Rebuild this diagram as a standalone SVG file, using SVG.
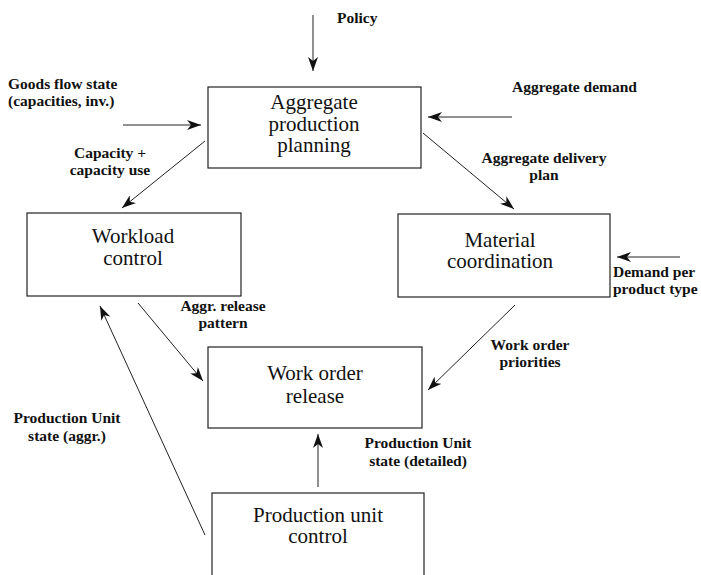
<svg xmlns="http://www.w3.org/2000/svg" width="701" height="575" viewBox="0 0 701 575">
<style>
.box{fill:#fff;stroke:#222;stroke-width:1.2}
.node{font-family:'Liberation Serif','Times New Roman','DejaVu Serif',serif;font-size:21px;fill:#111;text-anchor:middle}
.lbl{font-family:'Liberation Serif','Times New Roman','DejaVu Serif',serif;font-size:15.5px;font-weight:bold;fill:#111}
.c{text-anchor:middle}
.edge{stroke:#222;stroke-width:1;fill:none;marker-end:url(#ah)}
</style>
<defs>
<marker id="ah" viewBox="0 0 14 10" refX="14" refY="5" markerWidth="14" markerHeight="10" markerUnits="userSpaceOnUse" orient="auto">
<path d="M0,0 L14,5 L0,10 L4,5 Z" fill="#111"/>
</marker>
</defs>
<rect width="701" height="575" fill="#fff"/>
<g id="app">
<rect class="box" x="208" y="87" width="213" height="81"/>
<text class="node" x="314" y="109">Aggregate</text>
<text class="node" x="314" y="131">production</text>
<text class="node" x="314" y="152">planning</text>
</g>
<g id="workload">
<rect class="box" x="27" y="213" width="214" height="83"/>
<text class="node" x="133" y="243">Workload</text>
<text class="node" x="133" y="265">control</text>
</g>
<g id="material">
<rect class="box" x="398" y="214" width="212" height="83"/>
<text class="node" x="500" y="247">Material</text>
<text class="node" x="500" y="268">coordination</text>
</g>
<g id="release">
<rect class="box" x="208" y="347" width="214" height="81"/>
<text class="node" x="315" y="380">Work order</text>
<text class="node" x="315" y="403">release</text>
</g>
<g id="puc">
<rect class="box" x="212" y="493" width="212" height="100"/>
<text class="node" x="318" y="522">Production unit</text>
<text class="node" x="318" y="543">control</text>
</g>
<g id="connectors">
<line class="edge" x1="313" y1="15" x2="313" y2="71"/>
<line class="edge" x1="123" y1="125" x2="201" y2="125"/>
<line class="edge" x1="512" y1="117" x2="428" y2="117"/>
<line class="edge" x1="205" y1="141" x2="122" y2="208"/>
<line class="edge" x1="423" y1="133" x2="514" y2="209"/>
<line class="edge" x1="680" y1="257" x2="617" y2="257"/>
<line class="edge" x1="138" y1="303" x2="203" y2="381"/>
<line class="edge" x1="515" y1="305" x2="428" y2="390"/>
<line class="edge" x1="205" y1="535" x2="100" y2="306"/>
<line class="edge" x1="318" y1="487" x2="318" y2="434"/>
</g>
<g id="labels">
<text class="lbl" x="337" y="23">Policy</text>
<text class="lbl" x="8" y="89">Goods flow state</text>
<text class="lbl" x="8" y="106">(capacities, inv.)</text>
<text class="lbl" x="512" y="92">Aggregate demand</text>
<text class="lbl c" x="110" y="158">Capacity +</text>
<text class="lbl c" x="110" y="175">capacity use</text>
<text class="lbl c" x="544" y="163">Aggregate delivery</text>
<text class="lbl c" x="544" y="180">plan</text>
<text class="lbl" x="613" y="277">Demand per</text>
<text class="lbl" x="613" y="294">product type</text>
<text class="lbl c" x="223" y="311">Aggr. release</text>
<text class="lbl c" x="223" y="328">pattern</text>
<text class="lbl c" x="530" y="350">Work order</text>
<text class="lbl c" x="530" y="367">priorities</text>
<text class="lbl c" x="67" y="423">Production Unit</text>
<text class="lbl c" x="67" y="441">state (aggr.)</text>
<text class="lbl c" x="418" y="448">Production Unit</text>
<text class="lbl c" x="418" y="466">state (detailed)</text>
</g>
</svg>
